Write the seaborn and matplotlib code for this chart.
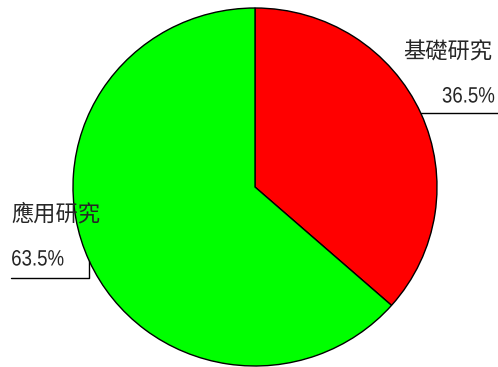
import numpy as np
import matplotlib
matplotlib.use("Agg")
import matplotlib.pyplot as plt
import seaborn as sns
from matplotlib.patheffects import AbstractPathEffect
from matplotlib.transforms import Affine2D

sns.set_theme(style="white")

categories = ["基礎研究", "應用研究"]
shares = [36.5, 63.5]
colors = ["#ff0000", "#00ff00"]

num_font = "Liberation Sans"
cjk_font = ["Noto Sans CJK TC", "DejaVu Sans"]


class Condensed(AbstractPathEffect):
    """Squeeze text horizontally about its left or right edge."""

    def __init__(self, factor, anchor="left"):
        super().__init__()
        self.factor = factor
        self.anchor = anchor

    def draw_path(self, renderer, gc, tpath, affine, rgbFace=None):
        ext = affine.transform_path(tpath).get_extents()
        x0 = ext.x0 if self.anchor == "left" else ext.x1
        squeezed = affine + Affine2D().translate(-x0, 0).scale(self.factor, 1).translate(x0, 0)
        renderer.draw_path(gc, tpath, squeezed, rgbFace)


W, H = 498, 367
fig = plt.figure(figsize=(W / 100, H / 100), dpi=100)
fig.patch.set_facecolor("white")
# pie occupies pixels x 73..437, y 8..366
ax = fig.add_axes([73 / W, 1 / H, 364 / W, 358 / H])

wedges, _ = ax.pie(
    shares,
    colors=colors,
    startangle=90,
    counterclock=False,
    wedgeprops=dict(edgecolor="black", linewidth=1.0),
)
ax.set_aspect("auto")
ax.set_xlim(-1, 1)
ax.set_ylim(-1, 1)
ax.axis("off")

# scale from pixels to axis units
sx, sy = 182.0, 179.0
cx, cy = 255.0, 187.0


def px(x, y):
    return (x - cx) / sx, (cy - y) / sy


def mid_point(w):
    ang = np.deg2rad((w.theta1 + w.theta2) / 2)
    return np.cos(ang), np.sin(ang)


pct_style = dict(va="center", fontsize=16, family=num_font)

# basic research: leader runs right from the wedge midpoint
mx, my = mid_point(wedges[0])
xr, _ = px(498, 0)
ax.plot([mx, xr], [my, my], color="black", lw=1.0, clip_on=False)
tx, ty = px(403, 52)
ax.text(tx, ty, categories[0], ha="left", va="center", fontsize=16, family=cjk_font)
tx, ty = px(495, 97)
ax.text(tx, ty, f"{shares[0]:.1f}%", ha="right",
        path_effects=[Condensed(0.84, "right")], **pct_style)

# applied research: leader drops from the wedge midpoint, then runs left
mx, my = mid_point(wedges[1])
xl, yl = px(11, 278)
ax.plot([mx, mx, xl], [my, yl, yl], color="black", lw=1.0, clip_on=False)
tx, ty = px(11, 214)
ax.text(tx, ty, categories[1], ha="left", va="center", fontsize=16, family=cjk_font)
tx, ty = px(11, 260)
ax.text(tx, ty, f"{shares[1]:.1f}%", ha="left",
        path_effects=[Condensed(0.84, "left")], **pct_style)

fig.savefig("out.png", dpi=100, facecolor="white")
